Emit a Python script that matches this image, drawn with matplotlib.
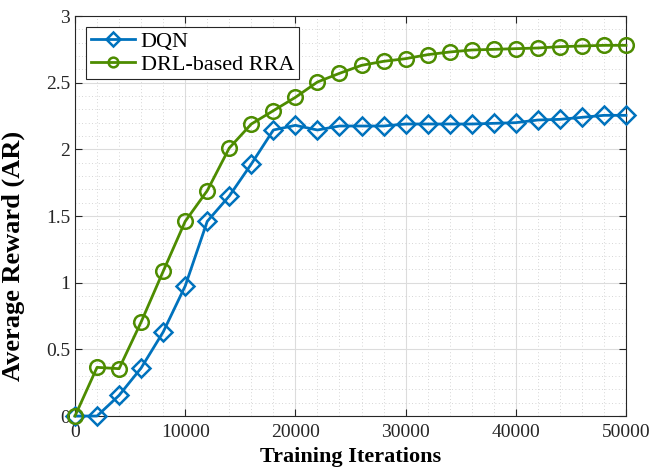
import matplotlib
matplotlib.use("Agg")
import matplotlib.pyplot as plt
from matplotlib.ticker import MultipleLocator

# training iterations
iters = list(range(0, 50001, 2000))

# average reward per curve
dqn = [0.0, 0.0, 0.155, 0.36, 0.63, 0.975, 1.46, 1.65, 1.89, 2.145, 2.18, 2.145,
       2.175, 2.175, 2.175, 2.19, 2.19, 2.19, 2.19, 2.195, 2.20, 2.22, 2.225, 2.24, 2.255, 2.255]
drl = [0.0, 0.365, 0.355, 0.705, 1.085, 1.46, 1.69, 2.01, 2.19, 2.29, 2.39, 2.505,
       2.57, 2.63, 2.66, 2.68, 2.71, 2.73, 2.745, 2.75, 2.755, 2.76, 2.77, 2.775, 2.78, 2.78]

plt.rcParams['font.family'] = ['Liberation Serif', 'DejaVu Serif']

fig = plt.figure(figsize=(6.62, 4.72), dpi=100)
ax = fig.add_axes([0.1133, 0.1186, 0.8323, 0.8475])

ax.plot(iters, dqn, color='#0072BD', lw=2.0, marker='D', markersize=9,
        markerfacecolor='none', markeredgewidth=1.8, label='DQN', clip_on=False, zorder=3)
ax.plot(iters, drl, color='#4D8C00', lw=2.0, marker='o', markersize=10.5,
        markerfacecolor='none', markeredgewidth=1.8, label='DRL-based RRA', clip_on=False, zorder=3)

ax.set_xlim(0, 50000)
ax.set_ylim(0, 3)
ax.xaxis.set_major_locator(MultipleLocator(10000))
ax.xaxis.set_minor_locator(MultipleLocator(2000))
ax.yaxis.set_minor_locator(MultipleLocator(0.1))
ax.set_yticks([0, 0.5, 1, 1.5, 2, 2.5, 3])
ax.set_yticklabels(['0', '0.5', '1', '1.5', '2', '2.5', '3'])

ax.grid(which='major', color='#dcdcdc', lw=0.8)
ax.grid(which='minor', color='#c8c8c8', lw=0.6, ls=(0, (1, 3)))
ax.set_axisbelow(True)

ax.tick_params(which='both', direction='in', top=True, right=True,
               labelsize=14, colors='#262626')
ax.tick_params(which='major', length=5)
ax.tick_params(axis='x', which='major', pad=6)
ax.tick_params(which='minor', length=0)
for s in ax.spines.values():
    s.set_color('#262626')
    s.set_linewidth(0.8)

ax.set_xlabel('Training Iterations', fontsize=16, fontweight='bold', labelpad=4)
ax.set_ylabel('Average Reward (AR)', fontsize=19, fontweight='bold', labelpad=6)
ax.yaxis.set_label_coords(-0.09, 0.40)

leg = ax.legend(loc='upper left', fontsize=16, fancybox=False, framealpha=1,
                edgecolor='#262626', borderpad=0.2, handlelength=2.0,
                labelspacing=0.1, borderaxespad=0.5, handletextpad=0.25)
leg.get_frame().set_linewidth(0.8)
for h in leg.legend_handles:
    h.set_markersize(7)

fig.savefig('out.png', dpi=100)
